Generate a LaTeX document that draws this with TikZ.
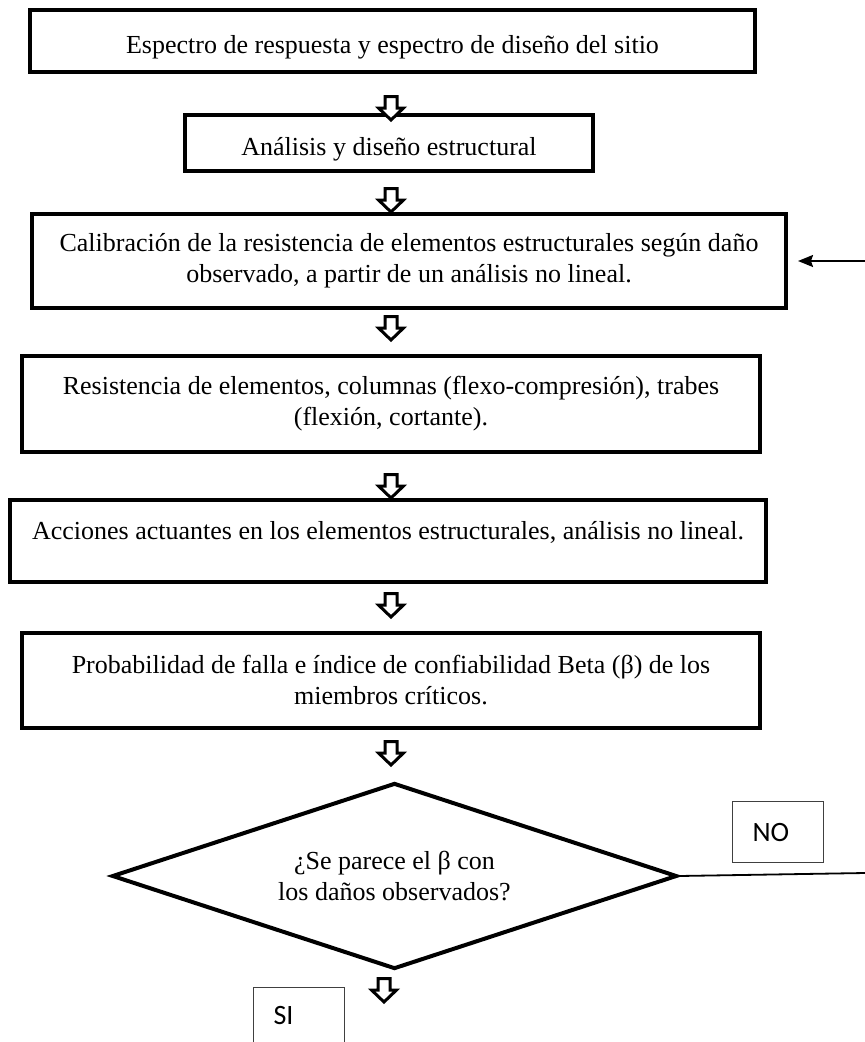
\documentclass[tikz,border=0pt]{standalone}
\usepackage{fontspec}
\setmainfont{Liberation Serif}
\newfontfamily\calibrifont{Carlito}
\usetikzlibrary{shapes.geometric,arrows.meta,calc}
\tikzset{
  box/.style={draw, line width=4pt, inner sep=0pt, align=center,
    font=\fontsize{26}{31}\selectfont},
  lowtext/.style={text height=30pt, text depth=6pt},
  decision/.style={diamond, aspect=3, draw, line width=4pt, inner sep=0pt,
    align=center, minimum width=565pt, minimum height=186pt,
    font=\fontsize{26}{31}\selectfont},
  tag/.style={draw=black!75, line width=1.2pt, inner ysep=0pt, inner xsep=20pt,
    text width=51pt, align=left, minimum height=61pt,
    font=\calibrifont\fontsize{28}{32}\selectfont},
  thinline/.style={line width=1.8pt},
  blockarrow/.pic={\draw[line width=3pt, fill=white, line join=miter]
    (-6,1.5) -- (6,1.5) -- (6,13) -- (12.5,13) -- (0,25) -- (-12.5,13) -- (-6,13) -- cycle;}
}
\begin{document}
\begin{tikzpicture}[x=1pt,y=-1pt]
\useasboundingbox (0,0) rectangle (865,1042);

\node[box, lowtext, minimum width=725pt, minimum height=62pt] (b1) at (392.5,41)
  {Espectro de respuesta y espectro de diseño del sitio};
\node[box, lowtext, minimum width=408pt, minimum height=56pt] (b2) at (389,143)
  {Análisis y diseño estructural};
\node[box, minimum width=754pt, minimum height=94pt] (b3) at (409,261)
  {Calibración de la resistencia de elementos estructurales según daño\\
   observado, a partir de un análisis no lineal.};
\node[box, minimum width=738pt, minimum height=96pt] (b4) at (391,404)
  {Resistencia de elementos, columnas (flexo-compresión), trabes\\
   (flexión, cortante).};
\node[box, minimum width=756pt, minimum height=82pt, text depth=22pt] (b5) at (388,541)
  {Acciones actuantes en los elementos estructurales, análisis no lineal.};
\node[box, minimum width=738pt, minimum height=95pt] (b6) at (391,680.5)
  {Probabilidad de falla e índice de confiabilidad Beta (β) de los\\
   miembros críticos.};
\node[decision] (d) at (394.5,876)
  {¿Se parece el β con\\ los daños observados?};

\pic at (391,95) {blockarrow};
\pic at (391,187) {blockarrow};
\pic at (391,315) {blockarrow};
\pic at (391,473) {blockarrow};
\pic at (391,592) {blockarrow};
\pic at (391,740) {blockarrow};
\pic at (384,977) {blockarrow};

\node[tag, anchor=north west] (no) at (732,801) {NO};
\node[tag, anchor=north west, minimum height=55pt] (si) at (253,987) {SI};

\coordinate (noend) at (865,873);
\coordinate (back) at (865,261);
\draw[thinline] (d.east) -- (noend);
\draw[thinline, -{Stealth[length=15pt, width=12pt, inset=2pt]}, shorten >=10pt]
  (back) -- (b3.east |- back);
\end{tikzpicture}
\end{document}
